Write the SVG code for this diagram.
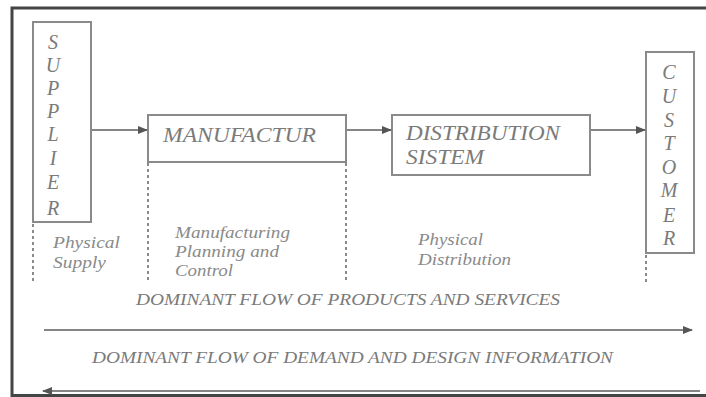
<svg xmlns="http://www.w3.org/2000/svg" width="706" height="397" viewBox="0 0 706 397">
  <style>
    .frame { fill: none; stroke: #454545; stroke-width: 3; }
    .box { fill: #ffffff; stroke: #8a8a8a; stroke-width: 2; }
    .flow { stroke: #858585; stroke-width: 2; fill: none; }
    .dots { stroke: #8a8a8a; stroke-width: 2; stroke-dasharray: 3 3; fill: none; }
    .big { font-family: "Liberation Serif", "DejaVu Serif", serif; font-style: italic; font-size: 20px; fill: #7a7a7a; }
    .letter { font-family: "Liberation Serif", "DejaVu Serif", serif; font-style: italic; font-size: 20px; fill: #7a7a7a; text-anchor: middle; }
    .note { font-family: "Liberation Serif", "DejaVu Serif", serif; font-style: italic; font-size: 16px; fill: #8a8a8a; }
    .caption { font-family: "Liberation Serif", "DejaVu Serif", serif; font-style: italic; font-size: 16px; fill: #7a7a7a; }
  </style>
  <defs>
    <marker id="head" viewBox="0 0 10 10" refX="9" refY="5" markerWidth="5" markerHeight="5" orient="auto">
      <path d="M0,1 L10,5 L0,9 z" fill="#555555"/>
    </marker>
  </defs>

  <rect width="706" height="397" fill="#ffffff"/>
  <!-- outer frame (open on the right) -->
  <path class="frame" d="M706,8 H12 V395.5 H706"/>

  <g id="supplier">
    <rect class="box" x="33" y="22" width="58" height="200"/>
    <text class="letter" x="53" y="49">S</text>
    <text class="letter" x="53" y="72">U</text>
    <text class="letter" x="53" y="95">P</text>
    <text class="letter" x="53" y="118">P</text>
    <text class="letter" x="53" y="141">L</text>
    <text class="letter" x="53" y="165">I</text>
    <text class="letter" x="53" y="189">E</text>
    <text class="letter" x="53" y="215">R</text>
  </g>

  <g id="manufactur">
    <rect class="box" x="148" y="115" width="198" height="47"/>
    <text class="big" x="163" y="142" textLength="153" lengthAdjust="spacingAndGlyphs">MANUFACTUR</text>
  </g>

  <g id="distribution">
    <rect class="box" x="392" y="115" width="198" height="60"/>
    <text class="big" x="406" y="140" textLength="154" lengthAdjust="spacingAndGlyphs">DISTRIBUTION</text>
    <text class="big" x="406" y="164" textLength="78" lengthAdjust="spacingAndGlyphs">SISTEM</text>
  </g>

  <g id="customer">
    <rect class="box" x="646" y="52" width="48" height="201"/>
    <text class="letter" x="669" y="79">C</text>
    <text class="letter" x="669" y="103">U</text>
    <text class="letter" x="669" y="127">S</text>
    <text class="letter" x="669" y="150">T</text>
    <text class="letter" x="669" y="174">O</text>
    <text class="letter" x="669" y="197">M</text>
    <text class="letter" x="669" y="222">E</text>
    <text class="letter" x="669" y="245">R</text>
  </g>

  <g id="connectors">
    <line class="flow" x1="92" y1="130" x2="147" y2="130" marker-end="url(#head)"/>
    <line class="flow" x1="347" y1="130" x2="391" y2="130" marker-end="url(#head)"/>
    <line class="flow" x1="591" y1="130" x2="645" y2="130" marker-end="url(#head)"/>
    <line class="flow" x1="44" y1="330" x2="692" y2="330" marker-end="url(#head)"/>
    <line class="flow" x1="700" y1="391" x2="43" y2="391" marker-end="url(#head)"/>
  </g>

  <g id="phase-dividers">
    <line class="dots" x1="33" y1="224" x2="33" y2="281"/>
    <line class="dots" x1="148" y1="163" x2="148" y2="282"/>
    <line class="dots" x1="346" y1="163" x2="346" y2="282"/>
    <line class="dots" x1="646" y1="255" x2="646" y2="282"/>
  </g>

  <g id="phase-labels">
    <text class="note" x="53" y="248" textLength="67" lengthAdjust="spacingAndGlyphs">Physical</text>
    <text class="note" x="53" y="268" textLength="53" lengthAdjust="spacingAndGlyphs">Supply</text>
    <text class="note" x="175" y="238" textLength="115" lengthAdjust="spacingAndGlyphs">Manufacturing</text>
    <text class="note" x="175" y="257" textLength="104" lengthAdjust="spacingAndGlyphs">Planning and</text>
    <text class="note" x="175" y="276" textLength="58" lengthAdjust="spacingAndGlyphs">Control</text>
    <text class="note" x="418" y="245" textLength="65" lengthAdjust="spacingAndGlyphs">Physical</text>
    <text class="note" x="418" y="265" textLength="93" lengthAdjust="spacingAndGlyphs">Distribution</text>
  </g>

  <g id="flow-captions">
    <text class="caption" x="136" y="305" textLength="424" lengthAdjust="spacingAndGlyphs">DOMINANT FLOW OF PRODUCTS AND SERVICES</text>
    <text class="caption" x="92" y="363" textLength="521" lengthAdjust="spacingAndGlyphs">DOMINANT FLOW OF DEMAND AND DESIGN INFORMATION</text>
  </g>
</svg>
